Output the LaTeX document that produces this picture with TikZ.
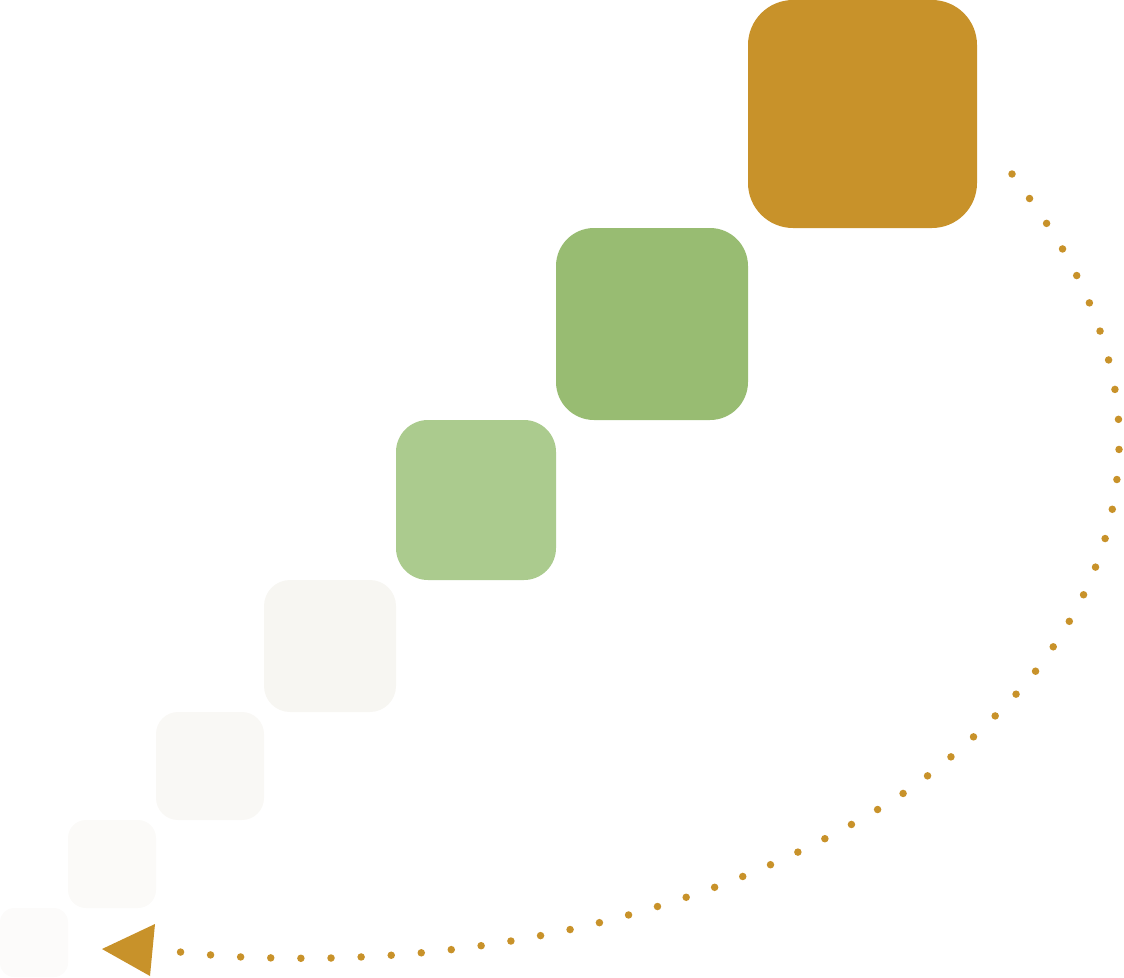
\documentclass[tikz,border=0pt]{standalone}
\begin{document}
\begin{tikzpicture}[x=1pt,y=-1pt,
  tile/.style={fill=#1, draw=none},
  dotline/.style={draw=gold, line width=7.5pt, line cap=round, dash pattern=on 0pt off 30.14pt}]
\definecolor{gold}{HTML}{C8922A}
\definecolor{greenA}{HTML}{98BC72}
\definecolor{greenB}{HTML}{ABCB8E}
\definecolor{greyA}{HTML}{F7F6F2}
\definecolor{greyB}{HTML}{F9F8F5}
\definecolor{greyC}{HTML}{FBFAF8}
\definecolor{greyD}{HTML}{FCFBFA}
\useasboundingbox (0,0) rectangle (1124,977);
\fill[gold, rounded corners=45pt] (748,0) rectangle (977,228);
\fill[greenA, rounded corners=38pt] (556,228) rectangle (748,420);
\fill[greenB, rounded corners=32pt] (396,420) rectangle (556,580);
\fill[greyA, rounded corners=26pt] (264,580) rectangle (396,712);
\fill[greyB, rounded corners=22pt] (156,712) rectangle (264,820);
\fill[greyC, rounded corners=18pt] (68,820) rectangle (156,908);
\fill[greyD, rounded corners=14pt] (0,908) rectangle (68,977);
\coordinate (s) at (1012,174);
\coordinate (e) at (180,952);
\draw[dotline] plot[smooth, tension=0.6] coordinates {(s) (1062,248) (1099,328) (1118,413) (1114,500) (1089,583) (1044,660) (987,724) (918,783) (845,828) (763,868) (681,899) (594,924) (505,942) (419,953) (331,958) (242,957) (e)};
\fill[gold] (102,949) -- (155,924) -- (150,976) -- cycle;
\end{tikzpicture}
\end{document}
